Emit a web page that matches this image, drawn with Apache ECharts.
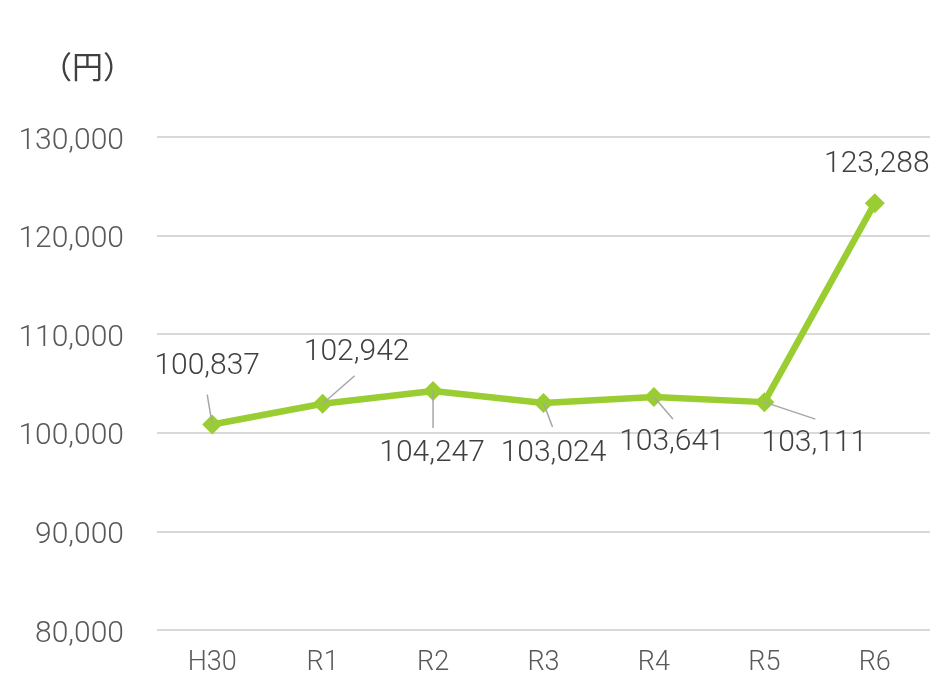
<!DOCTYPE html>
<html><head><meta charset="utf-8">
<script src="https://cdn.jsdelivr.net/npm/echarts@6/dist/echarts.min.js"></script>
<style>html,body{margin:0;padding:0;background:#fff}#c{width:932px;height:677px}</style>
</head><body><div id="c"></div>
<script>
const categories = ['H30','R1','R2','R3','R4','R5','R6'];
const values = [100837, 102942, 104247, 103024, 103641, 103111, 123288];
const yTicks = [80000, 90000, 100000, 110000, 120000, 130000];
const unitLabel = '（円）';
// label offsets and leader-line vectors (style only, pixels relative to each point)
const labelOffsets = [[-5,-28],[34,-21],[-1,93],[10,81],[18,76],[50,71],[2,-9]];
const guideVectors = [[-5,-30],[32,-28],[0,37],[9,24],[19,22],[51,17],null];

const fmt = v => v.toLocaleString('en-US');
const chart = echarts.init(document.getElementById('c'));
chart.setOption({
  animation:false,
  textStyle:{fontFamily:'Roboto'},
  title:{text:unitLabel,left:41,top:51,padding:0,
    textStyle:{color:'#404040',fontSize:31,fontWeight:'normal',fontFamily:'Noto Sans CJK JP'}},
  grid:{left:157,right:2,top:137,bottom:47},
  xAxis:{type:'category',data:categories,boundaryGap:true,
    axisLine:{show:false},axisTick:{show:false},
    axisLabel:{color:'#595959',fontSize:27,fontWeight:300,margin:20,fontFamily:'Roboto'}},
  yAxis:{type:'value',min:yTicks[0],max:yTicks[yTicks.length-1],interval:10000,
    axisLine:{show:false},axisTick:{show:false},
    splitLine:{lineStyle:{color:'#d9d9d9',width:2}},
    axisLabel:{color:'#595959',fontSize:30,fontWeight:300,margin:33,formatter:fmt,fontFamily:'Roboto',verticalAlign:'top',lineHeight:8}},
  series:[
    {type:'line',z:2,data:values,
    lineStyle:{color:'#9acd32',width:6.5},
    itemStyle:{color:'#9acd32'},
    symbol:'diamond',symbolSize:20,
    label:{show:true,position:'top',formatter:p=>fmt(p.value),color:'#404040',fontSize:30,fontWeight:300,fontFamily:'Roboto'},
    labelLayout:function(p){const o=labelOffsets[p.dataIndex];return {dx:o[0],dy:o[1]};}
    },
    {type:'custom',z:3,silent:true,data:values.map((v,i)=>[i,v]),
      renderItem:function(params,api){
        const i=params.dataIndex, g=guideVectors[i];
        if(!g) return null;
        const p=api.coord([api.value(0),api.value(1)]);
        return {type:'line',shape:{x1:p[0],y1:p[1],x2:p[0]+g[0],y2:p[1]+g[1]},
          style:{stroke:'#a6a6a6',lineWidth:1.5}};
      }}
  ]
});
</script></body></html>
